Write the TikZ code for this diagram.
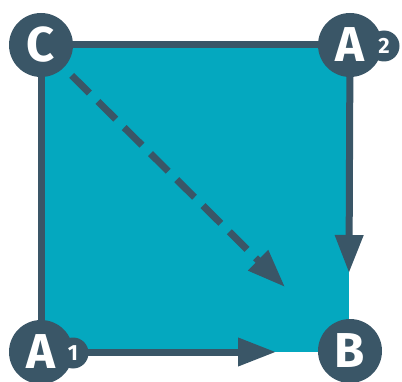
\documentclass[tikz,border=0pt]{standalone}
\usepackage{fontspec}
\setmainfont{Fira Sans}
\usetikzlibrary{arrows.meta,backgrounds}

\definecolor{ardoise}{RGB}{58,86,103}
\definecolor{turquoise}{RGB}{4,168,191}

\tikzset{
    sommet/.style={circle,fill=ardoise,text=white,inner sep=0pt,
        minimum size=64pt,font=\bfseries\fontsize{49pt}{49pt}\selectfont},
    indice/.style={circle,fill=ardoise,text=white,inner sep=0pt,
        minimum size=31pt,font=\bfseries\fontsize{22pt}{22pt}\selectfont},
    arete/.style={draw=ardoise,line width=7pt},
    fleche/.style={arete,-{Triangle[length=38pt,width=27pt]}}
}

\begin{document}
\begin{tikzpicture}[x=1pt,y=1pt]

\useasboundingbox (0,0) rectangle (402,381);

% Sommets
\node[sommet] (C) at (41,336) {C};
\node[sommet] (A2) at (350,336) {A};
\node[sommet] (A1) at (41,29) {A};
\node[sommet] (B) at (350,30) {B};

% Indices
\node[indice] (i2) at (384,335) {2};
\node[indice] (i1) at (73,28) {1};

% Extrémités des flèches
\coordinate (finA2) at (349,108);
\coordinate (finA1) at (276,29);
\coordinate (finC) at (285,94);

\begin{scope}[on background layer]

% Carré
\fill[turquoise]
(42,29)
rectangle
(349,336);

% Côtés
\draw[arete]
(C)
--
(A2);

\draw[arete]
(C)
--
(A1);

\draw[fleche]
(A2)
--
(finA2);

\draw[fleche]
(A1)
--
(finA1);

% Diagonale
\draw[fleche,dash pattern=on 25pt off 12pt,dash phase=26pt]
(C)
--
(finC);

\end{scope}

\end{tikzpicture}
\end{document}
